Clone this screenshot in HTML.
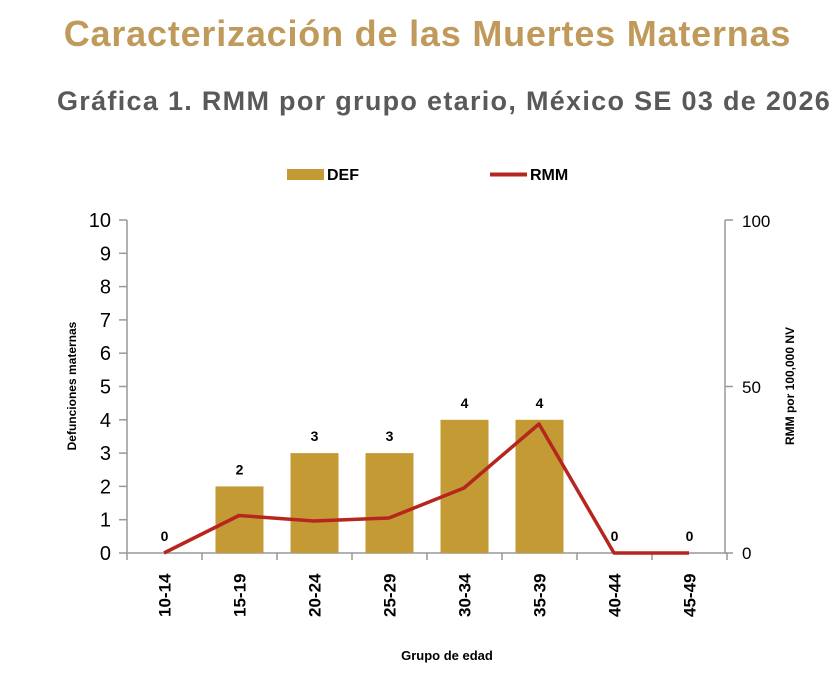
<!DOCTYPE html>
<html><head><meta charset="utf-8"><style>
body{margin:0;background:#fff;width:833px;height:678px;overflow:hidden;position:relative;font-family:"Liberation Sans",sans-serif}
.t1{position:absolute;left:0;width:855px;text-align:center;top:13px;font-size:36px;font-weight:bold;color:#bf9a5a;white-space:nowrap;letter-spacing:0.8px}
.t2{position:absolute;left:57px;top:86px;font-size:27px;font-weight:bold;color:#595959;white-space:nowrap;letter-spacing:1.3px}
</style></head><body>
<div class="t1">Caracterización de las Muertes Maternas</div>
<div class="t2">Gráfica 1. RMM por grupo etario, México SE 03 de 2026</div>
<svg width="833" height="678" style="position:absolute;left:0;top:0" font-family="Liberation Sans, sans-serif">
<rect x="287" y="169" width="37" height="11" fill="#c49a35"/>
<text x="327" y="180" font-size="16" font-weight="bold">DEF</text>
<line x1="490" y1="174.5" x2="527" y2="174.5" stroke="#b5271e" stroke-width="4"/>
<text x="530" y="180" font-size="16" font-weight="bold">RMM</text>
<g stroke="#999" stroke-width="1.5">
<line x1="127" y1="220" x2="127" y2="553"/>
<line x1="725" y1="220" x2="725" y2="553"/>
<line x1="127" y1="553" x2="727" y2="553"/>
</g>
<g stroke="#999" stroke-width="1.5" id="ticks"></g>
<g font-size="20" text-anchor="end" id="yl"></g>
<g fill="#c49a35" id="bars"></g>
<g font-size="14" font-weight="bold" text-anchor="middle" id="vl"></g>
<polyline points="164,553 239,515.5 314,521 389,518 464,488 539,424 614,553 689,553" fill="none" stroke="#b5271e" stroke-width="3.5" stroke-linejoin="round"/>
<g font-size="17" font-weight="bold" id="xl"></g>
<g font-size="17">
<text x="742" y="227">100</text><text x="742" y="393">50</text><text x="742" y="559">0</text>
</g>
<g stroke="#999" stroke-width="1.5"><line x1="725" y1="220" x2="733" y2="220"/><line x1="725" y1="386.5" x2="733" y2="386.5"/><line x1="725" y1="553" x2="733" y2="553"/></g>
<text transform="translate(76,386) rotate(-90)" font-size="12" font-weight="bold" text-anchor="middle">Defunciones maternas</text>
<text transform="translate(794,386) rotate(-90)" font-size="12" font-weight="bold" text-anchor="middle">RMM por 100,000 NV</text>
<text x="447" y="660" font-size="13" font-weight="bold" text-anchor="middle">Grupo de edad</text>
</svg>
<script>
var ns="http://www.w3.org/2000/svg";
function el(p,t,a,txt){var e=document.createElementNS(ns,t);for(var k in a)e.setAttribute(k,a[k]);if(txt!==undefined)e.textContent=txt;document.getElementById(p).appendChild(e);}
for(var i=0;i<=10;i++){var y=553-i*33.3;el("ticks","line",{x1:119,y1:y,x2:127,y2:y});el("yl","text",{x:111,y:y+7}, i);}
for(var i=0;i<=8;i++){var x=127+i*75;el("ticks","line",{x1:x,y1:553,x2:x,y2:560});}
var v=[0,2,3,3,4,4,0,0],l=["10-14","15-19","20-24","25-29","30-34","35-39","40-44","45-49"];
for(var i=0;i<8;i++){var c=164.5+i*75;if(v[i])el("bars","rect",{x:c-24,y:553-v[i]*33.3,width:48,height:v[i]*33.3});
el("vl","text",{x:c,y:553-v[i]*33.3-12},v[i]);
el("xl","text",{transform:"translate("+(c+6)+",617) rotate(-90)"},l[i]);}
</script>
</body></html>
